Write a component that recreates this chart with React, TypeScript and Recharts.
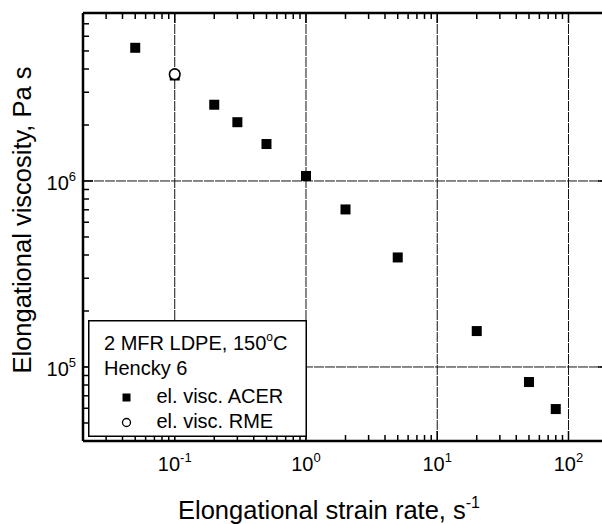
import React from "react"
import { ScatterChart, Scatter, XAxis, YAxis, ReferenceLine, Legend } from "recharts"

// ACER measurements (strain rate in 1/s, viscosity in Pa s)
const acerRate = [0.05, 0.1, 0.2, 0.3, 0.5, 1, 2, 5, 20, 50, 80]
const acerVisc = [5.2e6, 3.69e6, 2.57e6, 2.07e6, 1.58e6, 1.064e6, 7.03e5, 3.88e5, 1.56e5, 8.3e4, 5.94e4]

// RME measurement
const rmeRate = [0.1]
const rmeVisc = [3.75e6]

const xDomain = [0.02, 200]
const yDomain = [4e4, 8e6]
const xMajor = [0.1, 1, 10, 100]
const yMajor = [1e5, 1e6]
const xTicks = [
  0.02, 0.03, 0.04, 0.05, 0.06, 0.07, 0.08, 0.09,
  0.1, 0.2, 0.3, 0.4, 0.5, 0.6, 0.7, 0.8, 0.9,
  1, 2, 3, 4, 5, 6, 7, 8, 9,
  10, 20, 30, 40, 50, 60, 70, 80, 90,
  100, 200,
]
const yTicks = [
  4e4, 5e4, 6e4, 7e4, 8e4, 9e4,
  1e5, 2e5, 3e5, 4e5, 5e5, 6e5, 7e5, 8e5, 9e5,
  1e6, 2e6, 3e6, 4e6, 5e6, 6e6, 7e6, 8e6,
]

const acerData = acerRate.map((r, i) => ({ rate: r, visc: acerVisc[i] }))
const rmeData = rmeRate.map((r, i) => ({ rate: r, visc: rmeVisc[i] }))

const W = 620
const H = 524
const LEFT = 83
const TOP = 13
const BOTTOM_H = 83
const RIGHT_W = 12
const FONT = "'Liberation Sans', Arial, sans-serif"
const MAJOR_LEN = 10
const MINOR_LEN = 6

const isDecade = (v: number) => Math.abs(Math.log10(v) - Math.round(Math.log10(v))) < 1e-9
const expOf = (v: number) => String(Math.round(Math.log10(v)))

// tickSize and tickMargin are 0, so x / y passed in sit right on the axis line
function BottomTick(props: any) {
  const { x, y, payload } = props
  const v = payload.value
  const major = isDecade(v)
  return (
    <g>
      <line x1={x} x2={x} y1={y} y2={y - (major ? MAJOR_LEN : MINOR_LEN)} stroke="#000" strokeWidth={1.5} />
      {major && (
        <text x={x} y={y + 30} textAnchor="middle" fontFamily={FONT} fontSize={20} fill="#000">
          <tspan>10</tspan>
          <tspan dy={-9} fontSize={13}>{expOf(v)}</tspan>
        </text>
      )}
    </g>
  )
}

function TopTick(props: any) {
  const { x, y, payload } = props
  const major = isDecade(payload.value)
  return <line x1={x} x2={x} y1={y} y2={y + (major ? MAJOR_LEN : MINOR_LEN)} stroke="#000" strokeWidth={1.5} />
}

function LeftTick(props: any) {
  const { x, y, payload } = props
  const v = payload.value
  const major = isDecade(v)
  return (
    <g>
      <line x1={x} x2={x + (major ? MAJOR_LEN : MINOR_LEN)} y1={y} y2={y} stroke="#000" strokeWidth={1.5} />
      {major && (
        <text x={x - 7} y={y + 9} textAnchor="end" fontFamily={FONT} fontSize={20} fill="#000">
          <tspan>10</tspan>
          <tspan dy={-9} fontSize={13}>{expOf(v)}</tspan>
        </text>
      )}
    </g>
  )
}

function RightTick(props: any) {
  const { x, y, payload } = props
  const major = isDecade(payload.value)
  return <line x1={x} x2={x - (major ? MAJOR_LEN : MINOR_LEN)} y1={y} y2={y} stroke="#000" strokeWidth={1.5} />
}

const Square = (props: any) => {
  const { cx, cy } = props
  return <rect x={cx - 5} y={cy - 5} width={10} height={10} fill="#000" />
}

const OpenCircle = (props: any) => {
  const { cx, cy } = props
  return <circle cx={cx} cy={cy} r={5.3} fill="#fff" stroke="#000" strokeWidth={1.6} />
}

function LegendBox() {
  return (
    <svg width={219} height={117} style={{ display: "block" }}>
      <rect x={0.75} y={0.75} width={217.5} height={115.5} fill="#fff" stroke="#000" strokeWidth={1.5} />
      <g fontFamily={FONT} fontSize={20} fill="#000">
        <text x={16} y={30}>
          <tspan>2 MFR LDPE, 150</tspan>
          <tspan dy={-9} fontSize={12}>o</tspan>
          <tspan dy={9}>C</tspan>
        </text>
        <text x={16} y={55}>Hencky 6</text>
        <rect x={34.5} y={73.5} width={8} height={8} fill="#000" />
        <text x={68.5} y={82.5}>el. visc. ACER</text>
        <circle cx={38.5} cy={102.5} r={4} fill="#fff" stroke="#000" strokeWidth={1.3} />
        <text x={68.5} y={107.5}>el. visc. RME</text>
      </g>
    </svg>
  )
}

const axisLine = { stroke: "#000", strokeWidth: 2.5 }
const gridStyle = { stroke: "#111", strokeWidth: 1, strokeDasharray: "10 1" }

export default function App() {
  return (
    <div style={{ position: "absolute", left: 0, top: 0, width: 602, height: 524, overflow: "hidden", background: "#fff" }}>
      <ScatterChart width={W} height={H} margin={{ top: 0, right: 0, bottom: 0, left: 0 }}>
        <XAxis
          xAxisId="b"
          dataKey="rate"
          type="number"
          scale="log"
          domain={xDomain}
          allowDataOverflow
          ticks={xTicks}
          interval={0}
          height={BOTTOM_H}
          tickSize={0}
          tickMargin={0}
          tickLine={false}
          axisLine={axisLine}
          tick={<BottomTick />}
        />
        <XAxis
          xAxisId="t"
          orientation="top"
          dataKey="rate"
          type="number"
          scale="log"
          domain={xDomain}
          allowDataOverflow
          ticks={xTicks}
          interval={0}
          height={TOP}
          tickSize={0}
          tickMargin={0}
          tickLine={false}
          axisLine={axisLine}
          tick={<TopTick />}
        />
        <YAxis
          yAxisId="l"
          dataKey="visc"
          type="number"
          scale="log"
          domain={yDomain}
          allowDataOverflow
          ticks={yTicks}
          interval={0}
          width={LEFT}
          tickSize={0}
          tickMargin={0}
          tickLine={false}
          axisLine={axisLine}
          tick={<LeftTick />}
        />
        <YAxis
          yAxisId="r"
          orientation="right"
          dataKey="visc"
          type="number"
          scale="log"
          domain={yDomain}
          allowDataOverflow
          ticks={yTicks}
          interval={0}
          width={RIGHT_W}
          tickSize={0}
          tickMargin={0}
          tickLine={false}
          axisLine={axisLine}
          tick={<RightTick />}
        />
        {xMajor.map((v) => (
          <ReferenceLine key={"x" + v} x={v} xAxisId="b" yAxisId="l" {...gridStyle} />
        ))}
        {yMajor.map((v) => (
          <ReferenceLine key={"y" + v} y={v} xAxisId="b" yAxisId="l" {...gridStyle} />
        ))}
        <Scatter data={acerData} xAxisId="b" yAxisId="l" shape={<Square />} isAnimationActive={false} />
        <Scatter data={rmeData} xAxisId="b" yAxisId="l" shape={<OpenCircle />} isAnimationActive={false} />
        <Legend
          layout="vertical"
          align="center"
          verticalAlign="middle"
          content={() => <LegendBox />}
          wrapperStyle={{ left: 88, top: 320, bottom: "auto", right: "auto", width: 219, height: 117 }}
        />
        <text x={329} y={519} textAnchor="middle" fontFamily={FONT} fontSize={25.5} fill="#000">
          <tspan>Elongational strain rate, s</tspan>
          <tspan dy={-11} fontSize={16}>-1</tspan>
        </text>
        <text
          x={31}
          y={220}
          transform="rotate(-90, 31, 220)"
          textAnchor="middle"
          fontFamily={FONT}
          fontSize={25.5}
          fill="#000"
        >
          Elongational viscosity, Pa s
        </text>
      </ScatterChart>
    </div>
  )
}
